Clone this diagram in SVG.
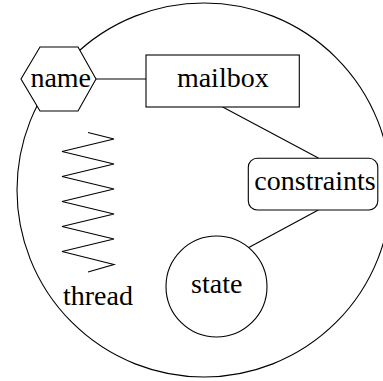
<svg xmlns="http://www.w3.org/2000/svg" width="383" height="381" viewBox="0 0 383 381">
  <style>
    .shape { fill: #ffffff; stroke: #000000; stroke-width: 1.1; }
    .line { fill: none; stroke: #000000; stroke-width: 1.1; }
    .label { font-family: 'Liberation Serif', 'Times New Roman', serif; font-size: 28px; fill: #000000; text-anchor: middle; }
  </style>
  <rect width="383" height="381" fill="#ffffff"/>

  <!-- actor boundary -->
  <g id="actor">
    <circle class="line" cx="204" cy="190" r="187"/>
  </g>

  <!-- connectors -->
  <g id="connectors">
    <line class="line" x1="96" y1="79" x2="146" y2="79"/>
    <line class="line" x1="222.7" y1="107" x2="318.3" y2="158"/>
    <line class="line" x1="318.3" y1="210" x2="248.3" y2="247.7"/>
  </g>

  <g id="name">
    <polygon class="shape" points="21,79 40,47 78,47 96,79 78,111 40,111"/>
    <text class="label" x="60.7" y="87.3">name</text>
  </g>

  <g id="mailbox">
    <rect class="shape" x="146" y="55" width="153.3" height="52"/>
    <text class="label" x="222.8" y="86.7">mailbox</text>
  </g>

  <g id="constraints">
    <rect class="shape" x="248.3" y="158.3" width="129.5" height="51.7" rx="9" ry="9"/>
    <text class="label" x="315" y="190">constraints</text>
  </g>

  <g id="state">
    <circle class="shape" cx="216.5" cy="286.5" r="50.5"/>
    <text class="label" x="216.7" y="293.3">state</text>
  </g>

  <g id="thread">
    <polyline class="line" points="88,132.5 114,139 62,151.5 114,164 62,176.5 114,189 62,201.5 114,214 62,226.5 114,239 62,251.5 114,264.5 88,272"/>
    <text class="label" x="98" y="305">thread</text>
  </g>
</svg>
